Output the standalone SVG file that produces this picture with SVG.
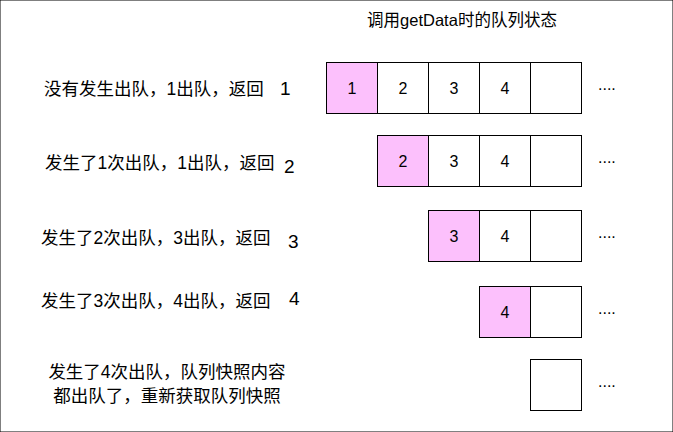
<svg xmlns="http://www.w3.org/2000/svg" width="673" height="432" viewBox="0 0 673 432">
<style>
text{font-family:"Liberation Sans","Noto Sans CJK SC",sans-serif;fill:#000}
.lbl{font-size:17.5px}
.big{font-size:19px}
.num{font-size:16px;text-anchor:middle}
.dots{font-size:16px}
.title{font-size:16.5px;text-anchor:middle}
rect{stroke:#000;stroke-width:1;fill:#fff}
rect.hl{fill:#fcc0fc}
</style>
<rect width="673" height="432" fill="#fff" stroke="none"/>
<g id="title"><text class="title" x="462" y="26">调用getData时的队列状态</text></g>

<g id="row1">
<text class="lbl" x="44" y="94.5">没有发生出队，1出队，返回</text>
<text class="big" x="280" y="95">1</text>
<rect class="hl" x="326.5" y="62.5" width="51" height="51"/>
<rect x="377.5" y="62.5" width="51" height="51"/>
<rect x="428.5" y="62.5" width="51" height="51"/>
<rect x="479.5" y="62.5" width="51" height="51"/>
<rect x="530.5" y="62.5" width="51" height="51"/>
<text class="num" x="352" y="94">1</text>
<text class="num" x="403" y="94">2</text>
<text class="num" x="454" y="94">3</text>
<text class="num" x="505" y="94">4</text>
<text class="dots" x="598" y="90">....</text>
</g>

<g id="row2">
<text class="lbl" x="45" y="169">发生了1次出队，1出队，返回</text>
<text class="big" x="284" y="172.5">2</text>
<rect class="hl" x="377.5" y="135.5" width="51" height="51"/>
<rect x="428.5" y="135.5" width="51" height="51"/>
<rect x="479.5" y="135.5" width="51" height="51"/>
<rect x="530.5" y="135.5" width="51" height="51"/>
<text class="num" x="403" y="167">2</text>
<text class="num" x="454" y="167">3</text>
<text class="num" x="505" y="167">4</text>
<text class="dots" x="598" y="163">....</text>
</g>

<g id="row3">
<text class="lbl" x="41" y="243.5">发生了2次出队，3出队，返回</text>
<text class="big" x="288" y="247.5">3</text>
<rect class="hl" x="428.5" y="210.5" width="51" height="51"/>
<rect x="479.5" y="210.5" width="51" height="51"/>
<rect x="530.5" y="210.5" width="51" height="51"/>
<text class="num" x="454" y="242">3</text>
<text class="num" x="505" y="242">4</text>
<text class="dots" x="598" y="238">....</text>
</g>

<g id="row4">
<text class="lbl" x="41" y="307">发生了3次出队，4出队，返回</text>
<text class="big" x="289" y="305">4</text>
<rect class="hl" x="479.5" y="286.5" width="51" height="51"/>
<rect x="530.5" y="286.5" width="51" height="51"/>
<text class="num" x="505" y="318">4</text>
<text class="dots" x="598" y="314">....</text>
</g>

<g id="row5">
<text class="lbl" x="167" y="378" text-anchor="middle">发生了4次出队，队列快照内容</text>
<text class="lbl" x="167" y="402" text-anchor="middle">都出队了，重新获取队列快照</text>
<rect x="530.5" y="359.5" width="51" height="51"/>
<text class="dots" x="598" y="387">....</text>
</g>
</svg>
